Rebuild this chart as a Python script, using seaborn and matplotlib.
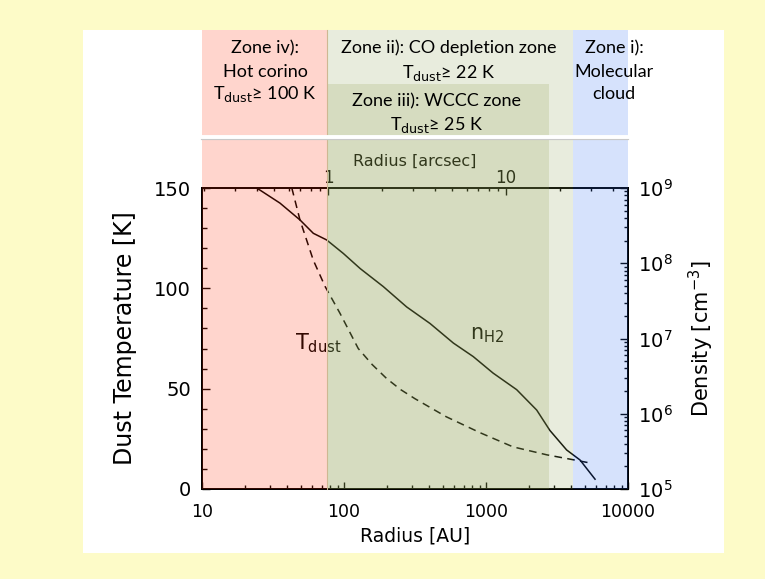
import numpy as np
import pandas as pd
import matplotlib
matplotlib.use("Agg")
import matplotlib.pyplot as plt
import seaborn as sns
from matplotlib.patches import Rectangle
from matplotlib.ticker import FixedLocator, FixedFormatter, LogLocator, MultipleLocator, NullFormatter

# ---------------- data ----------------
tdust_radius_au = [42.9, 49, 60.8, 73.5, 93.8, 126, 158, 200, 251, 316, 525, 912, 1549, 2692, 4169, 5370]
tdust_k = [150, 134, 114, 101, 87.5, 70, 62, 55, 49.5, 45, 36, 28, 21, 17, 14.5, 13]

nh2_radius_au = [24.3, 35.4, 49, 60.8, 75.5, 98.9, 130, 189, 276, 404, 589, 813, 1122,
                 1644, 2275, 2818, 3698, 4592, 5861]
nh2_cm3 = [1e9, 6.3e8, 3.76e8, 2.5e8, 2.04e8, 1.35e8, 8.5e7, 4.9e7, 2.63e7, 1.58e7, 8.7e6,
           5.75e6, 3.47e6, 2.09e6, 1.12e6, 6.0e5, 3.3e5, 2.43e5, 1.35e5]

zone_iv_au = (10, 76)
zone_ii_au = (76, 4070)
zone_iii_au = (76, 2770)
zone_i_au = (4070, 10000)

radius_ticks = [10, 100, 1000, 10000]
radius_labels = ["10", "100", "1000", "10000"]
arcsec_lim = (0.196, 48.4)
arcsec_ticks = [1, 10]
arcsec_labels = ["1", "10"]
temp_ticks = [0, 50, 100, 150]
dens_ticks = [1e5, 1e6, 1e7, 1e8, 1e9]
dens_labels = [r"$10^{5}$", r"$10^{6}$", r"$10^{7}$", r"$10^{8}$", r"$10^{9}$"]

df_t = pd.DataFrame({"R": tdust_radius_au, "T": tdust_k})
df_n = pd.DataFrame({"R": nh2_radius_au, "n": nh2_cm3})

# ---------------- figure ----------------
W, H = 765, 579
fig = plt.figure(figsize=(W / 100, H / 100), dpi=100, facecolor="#FDFBC8")
fig.patches.append(Rectangle((83 / W, 26 / H), (724 - 83) / W, (553 - 30) / H,
                             transform=fig.transFigure, facecolor="white",
                             edgecolor="none", zorder=-5))

ax = fig.add_axes([202 / W, 90 / H, 426 / W, 301 / H])
axr = ax.twinx()
axt = ax.twiny()
ax.set_zorder(5)
ax.patch.set_visible(False)
for a in (axr, axt):
    a.patch.set_visible(False)

# temperature (left axis)
ax.set_xscale("log")
sns.lineplot(data=df_t, x="R", y="T", ax=ax, color="black", lw=1.1, sort=False)
ax.lines[-1].set_dashes((5, 3.5))
ax.set_xlim(10, 10000)
ax.set_ylim(0, 150)
ax.yaxis.set_major_locator(FixedLocator(temp_ticks))
ax.yaxis.set_minor_locator(MultipleLocator(10))
ax.xaxis.set_major_locator(FixedLocator(radius_ticks))
ax.xaxis.set_major_formatter(FixedFormatter(radius_labels))
ax.xaxis.set_minor_locator(LogLocator(base=10, subs=np.arange(2, 10)))
ax.xaxis.set_minor_formatter(NullFormatter())
ax.tick_params(axis="y", which="major", direction="in", length=6, width=1, labelsize=14, pad=8)
ax.tick_params(axis="y", which="minor", direction="in", length=3.5, width=1)
ax.tick_params(axis="x", which="major", direction="in", length=5, width=1, labelsize=12.5, pad=10)
ax.tick_params(axis="x", which="minor", direction="in", length=3, width=1)
ax.set_xlabel("Radius [AU]", fontsize=13.5, labelpad=4)
ax.set_ylabel("Dust Temperature [K]", fontsize=17, labelpad=12)

# density (right axis)
axr.set_yscale("log")
sns.lineplot(data=df_n, x="R", y="n", ax=axr, color="black", lw=1.1, sort=False)
axr.set_ylim(1e5, 1e9)
axr.yaxis.set_major_locator(FixedLocator(dens_ticks))
axr.yaxis.set_major_formatter(FixedFormatter(dens_labels))
axr.yaxis.set_minor_locator(LogLocator(base=10, subs=np.arange(2, 10)))
axr.yaxis.set_minor_formatter(NullFormatter())
axr.tick_params(axis="y", which="major", direction="in", length=6, width=1, labelsize=14, pad=7)
axr.tick_params(axis="y", which="minor", direction="in", length=3, width=1)
axr.set_ylabel(r"Density [cm$^{-3}$]", fontsize=15, labelpad=10)
axr.set_xlabel("")

# arcsec (top axis)
axt.set_xscale("log")
axt.set_xlim(*arcsec_lim)
axt.xaxis.set_major_locator(FixedLocator(arcsec_ticks))
axt.xaxis.set_major_formatter(FixedFormatter(arcsec_labels))
axt.xaxis.set_minor_locator(LogLocator(base=10, subs=np.arange(2, 10)))
axt.xaxis.set_minor_formatter(NullFormatter())
axt.tick_params(axis="x", which="major", direction="in", length=5, width=1, labelsize=12, pad=1)
axt.tick_params(axis="x", which="minor", direction="in", length=2.5, width=1)
axt.set_xlabel("Radius [arcsec]", fontsize=11.5, labelpad=2)

for a in (ax, axr, axt):
    for s in a.spines.values():
        s.set_linewidth(1.2)

# curve labels
ax.text(65.6, 72.8, r"T$_{\mathrm{dust}}$", fontsize=15, ha="center", va="center", zorder=4)
ax.text(1016, 76.7, r"n$_{\mathrm{H2}}$", fontsize=15, ha="center", va="center", zorder=4)

# ---------------- zone overlays (semi-transparent, on top) ----------------
top_all = (489 - 30) / 301
top_iii = (489 - 84) / 301
ov = dict(clip_on=False, zorder=10, lw=0)
ax.axvspan(*zone_iv_au, ymin=0, ymax=top_all, color=(1.0, 45 / 255, 5 / 255), alpha=0.2, **ov)
ax.axvspan(*zone_ii_au, ymin=0, ymax=top_all, color=(140 / 255, 160 / 255, 85 / 255), alpha=0.2, **ov)
ax.axvspan(*zone_iii_au, ymin=0, ymax=top_iii, color=(142 / 255, 156 / 255, 76 / 255), alpha=0.2, **ov)
ax.axvspan(*zone_i_au, ymin=0, ymax=top_all, color=(50 / 255, 110 / 255, 240 / 255), alpha=0.2, **ov)
ax.axvline(zone_ii_au[0], ymin=0, ymax=top_all, color="#cdb892", lw=0.8, clip_on=False, zorder=11)

# white separator line with shadow
y_line = (489 - 137) / 301
ax.plot([0, 1], [y_line - 0.008] * 2, transform=ax.transAxes, color="#c9c9c9",
        lw=1.6, clip_on=False, zorder=12)
ax.plot([0, 1], [y_line] * 2, transform=ax.transAxes, color="white",
        lw=2.8, clip_on=False, zorder=13)

# zone texts
zf = dict(fontsize=13, family=["Lato", "DejaVu Sans"], ha="center", va="center",
          transform=ax.transAxes, zorder=20, clip_on=False)

def py(p):
    return (489 - p) / 301

def px(p):
    return (p - 202) / 426

ax.text(px(265), py(48), "Zone iv):", **zf)
ax.text(px(265), py(72), "Hot corino", **zf)
ax.text(px(265), py(94), r"T$_{\mathrm{dust}}$≥ 100 K", **zf)
ax.text(px(449), py(48), "Zone ii): CO depletion zone", **zf)
ax.text(px(449), py(73), r"T$_{\mathrm{dust}}$≥ 22 K", **zf)
ax.text(px(437), py(101), "Zone iii): WCCC zone", **zf)
ax.text(px(437), py(125), r"T$_{\mathrm{dust}}$≥ 25 K", **zf)
ax.text(px(614), py(48), "Zone i):", **zf)
ax.text(px(614), py(72), "Molecular", **zf)
ax.text(px(614), py(94), "cloud", **zf)

fig.savefig("out.png", dpi=100, facecolor=fig.get_facecolor())
